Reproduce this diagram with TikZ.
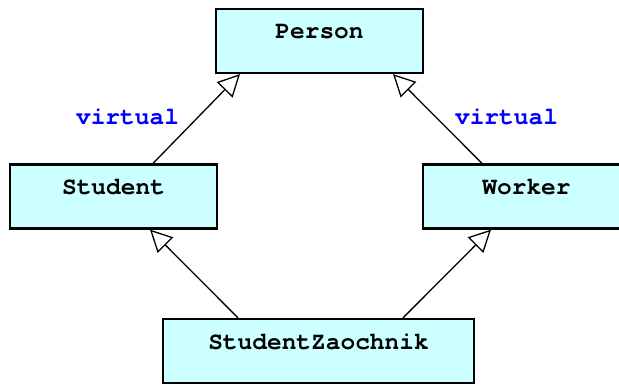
\documentclass[tikz,border=0pt]{standalone}
\usepackage{fontspec}
\setmonofont{texgyrecursor}[Extension=.otf, UprightFont=*-regular, BoldFont=*-bold]
\usetikzlibrary{arrows.meta}
\definecolor{boxfill}{HTML}{CCFFFF}
\tikzset{
  classbox/.style={draw=black, line width=2.2pt, fill=boxfill, inner sep=0pt,
    minimum width=207pt, minimum height=64pt,
    text height=30pt, text depth=34pt,
    font=\ttfamily\bfseries\fontsize{24.5}{24.5}\selectfont},
  inherit/.style={line width=1.3pt, -{Triangle[open, length=22pt, width=22pt, line width=1.3pt, fill=white]}},
  vlabel/.style={text=blue, inner sep=0pt, anchor=base,
    font=\ttfamily\bfseries\fontsize{24.5}{24.5}\selectfont}
}
\begin{document}
\begin{tikzpicture}[x=1pt, y=-1pt]
  \useasboundingbox (0,0) rectangle (619,385);
  \clip (0,0) rectangle (619,385);
  % class boxes
  \node[classbox] (person)  at (319.5,41) {Person};
  \node[classbox] (student) at (113.5,196.5) {Student};
  \node[classbox] (worker)  at (526.5,196.5) {Worker};
  \node[classbox, minimum width=311pt] (sz) at (318.5,351) {StudentZaochnik};
  % inheritance arrows
  \draw[inherit] ([xshift=39.5pt]student.north) -- ([xshift=-79.5pt]person.south);
  \draw[inherit] ([xshift=-44.5pt]worker.north) -- ([xshift=73.5pt]person.south);
  \draw[inherit] ([xshift=-80.5pt]sz.north) -- ([xshift=36.5pt]student.south);
  \draw[inherit] ([xshift=84.5pt]sz.north) -- ([xshift=-35.5pt]worker.south);
  % virtual inheritance labels
  \node[vlabel] (vleft)  at (127.5,125) {virtual};
  \node[vlabel] (vright) at (506.5,125) {virtual};
\end{tikzpicture}
\end{document}
